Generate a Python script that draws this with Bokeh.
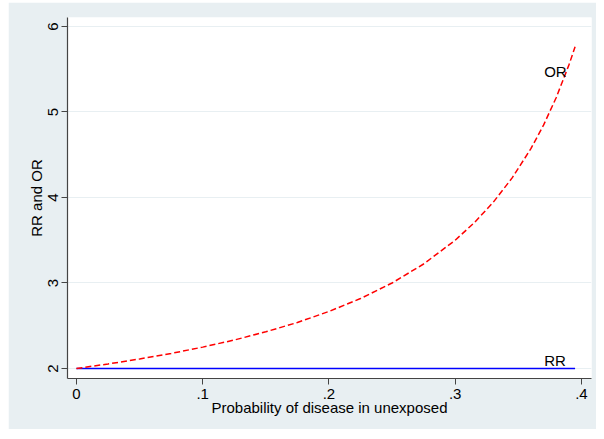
from bokeh.plotting import figure
from bokeh.models import FixedTicker, Range1d, ColumnDataSource, Spacer
from bokeh.layouts import row, column
from bokeh.core.properties import value
from bokeh.embed import file_html
from bokeh.resources import INLINE

# Data
p0 = [0.0, 0.025, 0.05, 0.075, 0.1, 0.125, 0.15, 0.175, 0.2, 0.225, 0.25,
      0.275, 0.3, 0.315, 0.33, 0.345, 0.36, 0.37, 0.38, 0.39, 0.395]
odds_ratio = [2.0, 2.053, 2.111, 2.176, 2.25, 2.333, 2.429, 2.538, 2.667, 2.818, 3.0,
              3.222, 3.5, 3.703, 3.941, 4.226, 4.571, 4.846, 5.167, 5.545, 5.762]
risk_ratio = [2.0] * len(p0)

x_ticks = [0, 0.1, 0.2, 0.3, 0.4]
x_tick_labels = ["0", ".1", ".2", ".3", ".4"]
y_ticks = [2, 3, 4, 5, 6]

label_text = ["OR", "RR"]
label_x = [0.3705, 0.3705]
label_y = [5.47, 2.095]

BG = "#E8EFF2"
FONT = "Liberation Sans"

p = figure(width=588, height=427, output_backend="svg", toolbar_location=None,
           x_range=Range1d(-0.0071, 0.408), y_range=Range1d(1.883, 6.105),
           min_border_left=59, min_border_right=5, min_border_top=15, min_border_bottom=51)
p.border_fill_color = BG
p.background_fill_color = "white"
p.outline_line_color = None

src = ColumnDataSource(dict(x=p0, orv=odds_ratio, rrv=risk_ratio))
p.line("x", "rrv", source=src, line_color="#0000FF", line_width=1.3)
p.line("x", "orv", source=src, line_color="#FF0000", line_width=1.5, line_dash="6 3")

lab = ColumnDataSource(dict(x=label_x, y=label_y, t=label_text))
p.text("x", "y", text="t", source=lab, text_font=value(FONT), text_font_size="15px",
       text_align="left", text_baseline="middle", text_color="black")

p.xgrid.visible = False
p.ygrid.grid_line_color = BG
p.ygrid.grid_line_width = 1

p.xaxis.ticker = FixedTicker(ticks=x_ticks)
p.xaxis.major_label_overrides = {t: l for t, l in zip(x_ticks, x_tick_labels)}
p.yaxis.ticker = FixedTicker(ticks=y_ticks)
p.yaxis.major_label_orientation = "vertical"

for ax in (p.xaxis[0], p.yaxis[0]):
    ax.axis_line_color = "#444444"
    ax.axis_line_width = 1.2
    ax.major_tick_line_color = "#444444"
    ax.major_tick_out = 6
    ax.major_tick_in = 0
    ax.minor_tick_line_color = None
    ax.major_label_text_font = FONT
    ax.major_label_text_font_size = "15px"
    ax.major_label_text_color = "black"
    ax.axis_label_text_font = FONT
    ax.axis_label_text_font_size = "15px"
    ax.axis_label_text_font_style = "normal"
    ax.axis_label_text_color = "black"

p.xaxis.axis_label = "Probability of disease in unexposed"
p.xaxis.major_label_standoff = 4
p.xaxis.axis_label_standoff = -3
p.yaxis.axis_label = "RR and OR"
p.yaxis.major_label_standoff = 3
p.yaxis.axis_label_standoff = 1

layout = row(Spacer(width=8, height=429), column(Spacer(width=588, height=2), p))

open("out.html", "w").write(file_html(layout, INLINE))
